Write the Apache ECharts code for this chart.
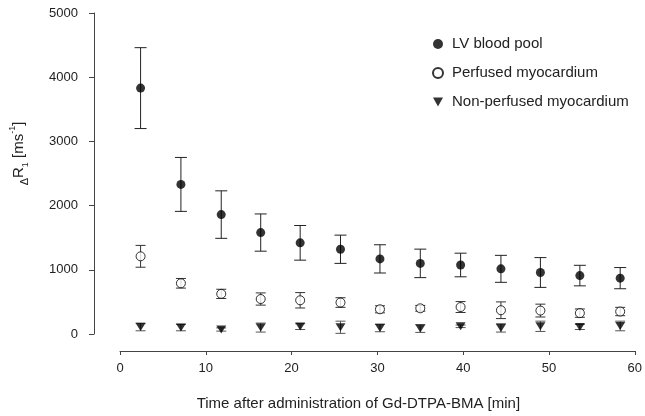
<!DOCTYPE html>
<html>
<head>
<meta charset="utf-8">
<script src="https://cdn.jsdelivr.net/npm/echarts@6/dist/echarts.min.js"></script>
<style>
  html, body { margin: 0; padding: 0; background: #fff; }
  #chart { width: 645px; height: 416px; }
</style>
</head>
<body>
<div id="chart"></div>
<script>
// time points [min]
const times = [2.4, 7.1, 11.8, 16.4, 21.0, 25.7, 30.3, 35.0, 39.7, 44.4, 49.0, 53.6, 58.3];
// LV blood pool
const lvMean = [3830, 2330, 1860, 1580, 1420, 1320, 1170, 1100, 1075, 1015, 958, 910, 870];
const lvErr = [630, 420, 370, 290, 270, 220, 220, 222, 184, 210, 232, 160, 165];
// perfused myocardium
const perfMean = [1210, 790, 625, 545, 525, 490, 385, 400, 420, 370, 365, 325, 350];
const perfErr = [170, 75, 72, 95, 120, 75, 55, 45, 85, 130, 100, 65, 65];
// non-perfused myocardium
const nonMean = [110, 100, 70, 100, 115, 105, 95, 85, 120, 95, 120, 110, 125];
const nonErr = [60, 50, 25, 70, 45, 95, 60, 60, 20, 65, 80, 40, 75];

const seriesNames = ['LV blood pool', 'Perfused myocardium', 'Non-perfused myocardium'];
const xTicks = [0, 60, 10];      // min, max, interval
const yTicks = [0, 5000, 1000];

const font = 'Liberation Sans, Arial, sans-serif';
const triangleDown = 'path://M0,0 L10,0 L5,9 Z';

function errorBars(mean, err, capHalf, color) {
  return {
    type: 'custom',
    silent: true,
    z: 1,
    data: times.map((t, i) => [t, mean[i] - err[i], mean[i] + err[i]]),
    encode: { x: 0, y: [1, 2] },
    renderItem(params, api) {
      const x = api.value(0);
      const lo = api.coord([x, api.value(1)]);
      const hi = api.coord([x, api.value(2)]);
      const style = { stroke: color, lineWidth: 1 };
      return {
        type: 'group',
        children: [
          { type: 'line', shape: { x1: lo[0], y1: lo[1], x2: hi[0], y2: hi[1] }, style },
          { type: 'line', shape: { x1: hi[0] - capHalf, y1: hi[1], x2: hi[0] + capHalf, y2: hi[1] }, style },
          { type: 'line', shape: { x1: lo[0] - capHalf, y1: lo[1], x2: lo[0] + capHalf, y2: lo[1] }, style }
        ]
      };
    }
  };
}

const chart = echarts.init(document.getElementById('chart'));

chart.setOption({
  animation: false,
  backgroundColor: '#fff',
  textStyle: { fontFamily: font },
  grid: { left: 119, right: 6, top: 13, bottom: 72 },
  legend: {
    data: seriesNames,
    orient: 'vertical',
    left: 427,
    top: 31,
    itemWidth: 10,
    itemHeight: 10,
    itemGap: 13,
    textStyle: { fontSize: 15, color: '#222', fontFamily: font, lineHeight: 16, padding: [0, 0, 0, 4] }
  },
  xAxis: {
    type: 'value',
    min: xTicks[0],
    max: xTicks[1],
    interval: xTicks[2],
    offset: 17,
    splitLine: { show: false },
    axisLine: { onZero: false, lineStyle: { color: '#444', width: 1 } },
    axisTick: { length: 4, lineStyle: { color: '#444' } },
    axisLabel: { fontSize: 13, color: '#222', margin: 11 },
    name: 'Time after administration of Gd-DTPA-BMA [min]',
    nameLocation: 'middle',
    nameGap: 45,
    nameTextStyle: { fontSize: 15, color: '#222', padding: [0, 38, 0, 0] }
  },
  yAxis: {
    type: 'value',
    min: yTicks[0],
    max: yTicks[1],
    interval: yTicks[2],
    offset: 26,
    splitLine: { show: false },
    axisLine: { show: true, onZero: false, lineStyle: { color: '#444', width: 1 } },
    axisTick: { show: true, length: 5, lineStyle: { color: '#444' } },
    axisLabel: { fontSize: 13, color: '#222', margin: 16, formatter: v => String(v) },
    name: '{d|Δ}R{sub|1} [ms{sup|-1}]',
    nameLocation: 'middle',
    nameRotate: 90,
    nameGap: 64,
    nameTextStyle: {
      fontSize: 15,
      color: '#222',
      padding: [0, 0, 0, 40],
      rich: {
        d: { fontSize: 11, color: '#222', verticalAlign: 'bottom', lineHeight: 20 },
        sub: { fontSize: 9, color: '#222', verticalAlign: 'bottom', lineHeight: 20 },
        sup: { fontSize: 9, color: '#222', verticalAlign: 'top', lineHeight: 22 }
      }
    }
  },
  series: [
    errorBars(lvMean, lvErr, 6, '#222'),
    errorBars(perfMean, perfErr, 5, '#333'),
    errorBars(nonMean, nonErr, 5, '#555'),
    {
      name: seriesNames[0],
      type: 'scatter',
      z: 3,
      symbol: 'circle',
      symbolSize: 9,
      itemStyle: { color: '#000' },
      data: times.map((t, i) => [t, lvMean[i]])
    },
    {
      name: seriesNames[1],
      type: 'scatter',
      z: 3,
      symbol: 'circle',
      symbolSize: 9,
      itemStyle: { color: '#fff', borderColor: '#000', borderWidth: 1 },
      data: times.map((t, i) => [t, perfMean[i]])
    },
    {
      name: seriesNames[2],
      type: 'scatter',
      z: 3,
      symbol: triangleDown,
      symbolSize: [10, 8],
      itemStyle: { color: '#000' },
      data: times.map((t, i) => [t, nonMean[i]])
    }
  ]
});
</script>
</body>
</html>
